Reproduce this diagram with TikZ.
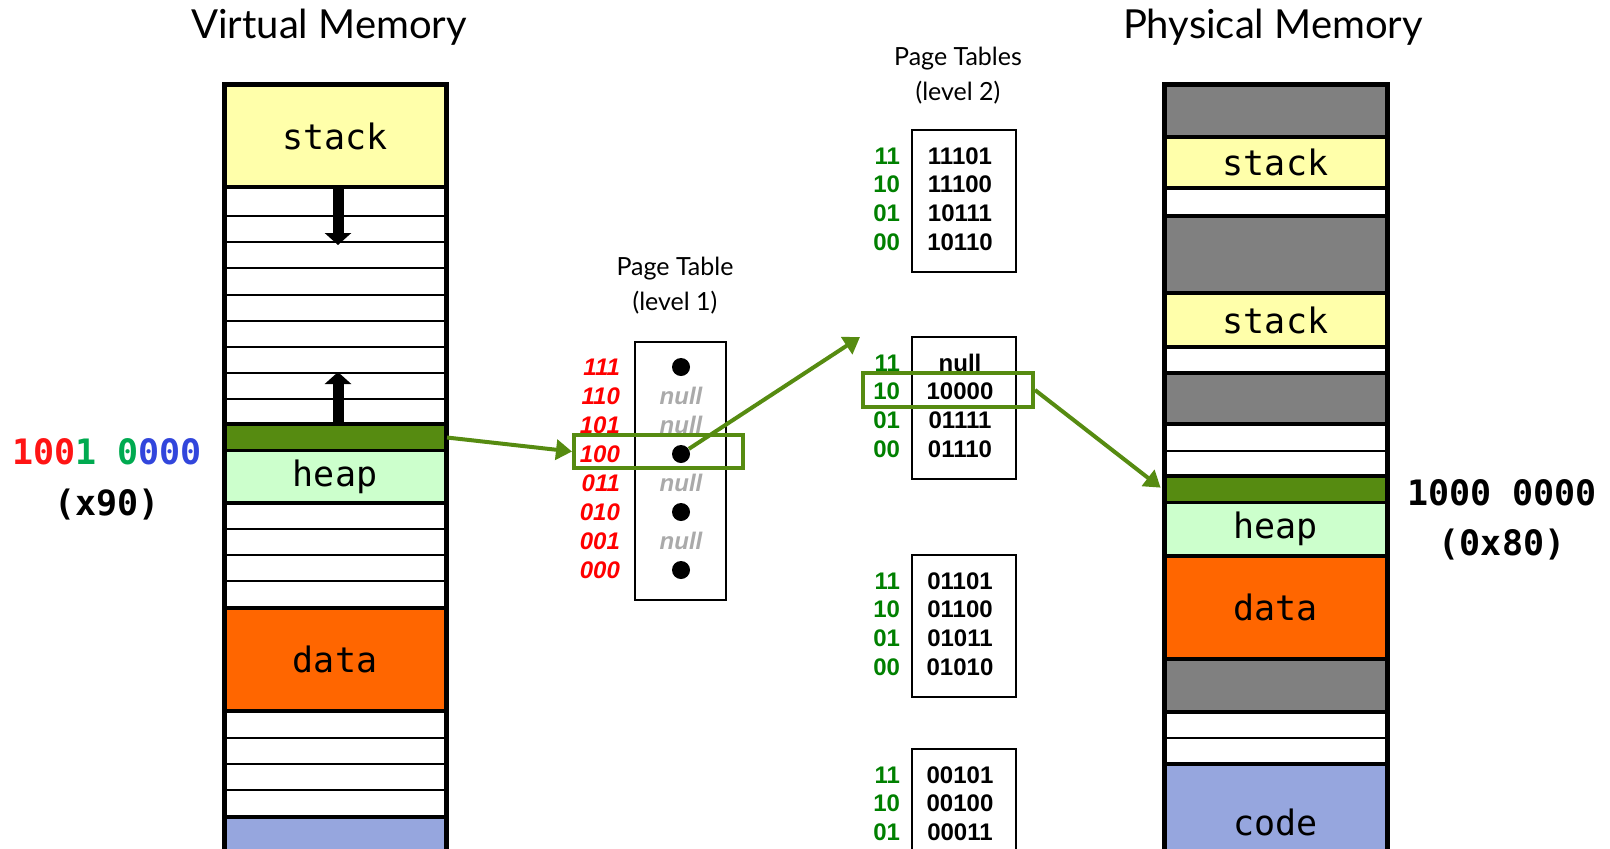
\documentclass[tikz,border=0pt]{standalone}
\usepackage{fontspec}
\setmainfont{Liberation Sans}
\newfontfamily\segfont{DejaVu Sans Mono}
\newfontfamily\titlefont{Lato}
\usetikzlibrary{arrows.meta,fit,positioning}

\definecolor{stackyellow}{RGB}{255,255,170}
\definecolor{heapgreen}{RGB}{204,255,204}
\definecolor{dataorange}{RGB}{255,102,0}
\definecolor{codeblue}{RGB}{150,166,222}
\definecolor{gapgray}{RGB}{128,128,128}
\definecolor{bargreen}{RGB}{86,139,17}
\definecolor{idxred}{RGB}{255,0,0}
\definecolor{idxgreen}{RGB}{0,128,0}
\definecolor{nullgray}{RGB}{170,170,170}
\definecolor{addrred}{RGB}{255,20,20}
\definecolor{addrgreen}{RGB}{0,170,80}
\definecolor{addrblue}{RGB}{50,70,220}

\tikzset{
	seg/.style={draw, line width=2pt, inner sep=0pt},
	segtext/.style={font=\segfont\fontsize{17.5}{20}\selectfont},
	rowline/.style={line width=1pt},
	colborder/.style={line width=2.5pt},
	titletext/.style={font=\titlefont\fontsize{20}{24}\selectfont},
	captext/.style={font=\titlefont\fontsize{12.5}{17.5}\selectfont, align=center},
	tbox/.style={draw, line width=1pt, inner sep=0pt},
	l1idx/.style={anchor=east, text=idxred, font=\fontsize{12}{14}\selectfont\bfseries\itshape},
	l2idx/.style={anchor=east, text=idxgreen, font=\fontsize{12}{14}\selectfont\bfseries},
	ptentry/.style={font=\fontsize{12}{14}\selectfont\bfseries},
	nullentry/.style={text=nullgray, font=\fontsize{12}{14}\selectfont\bfseries\itshape},
	ptrdot/.style={circle, fill, minimum size=9pt, inner sep=0pt},
	hlbox/.style={draw=bargreen, line width=2pt, inner sep=0pt},
	ptr/.style={draw=bargreen, line width=2pt, -{Triangle[length=8pt,width=10pt]}},
	growarrow/.style={line width=5.5pt, -{Triangle[length=6pt,width=13pt]}},
	addr/.style={font=\segfont\bfseries\fontsize{17.5}{20}\selectfont}
}

\begin{document}
\begin{tikzpicture}[x=0.5pt,y=-0.5pt]
	\useasboundingbox (0,0) rectangle (1610,848);
	\clip (0,0) rectangle (1610,848);

	% titles
	\node[titletext]	(vtitle)	at (329,27)		{Virtual Memory};
	\node[titletext]	(ptitle)	at (1273,27)	{Physical Memory};
	\node[captext]		(l1title)	at (675,286)	{Page Table\\(level 1)};
	\node[captext]		(l2title)	at (958,76)		{Page Tables\\(level 2)};

	% virtual memory
	\node[seg, fill=stackyellow, fit={(224,85)(446,187)}, label={[segtext]center:stack}]	(vstack)	{};
	\foreach \y in {216,242,268,295,321,347,373,399,529,555,581,738,764,790}
		\draw[rowline] (224,\y) -- (446,\y);
	\node[seg, fill=heapgreen, fit={(224,450)(446,503)}, label={[segtext]center:heap}]	(vheap)		{};
	\node[seg, fill=bargreen, line width=1pt, fit={(224,425)(446,450)}]	(vbar)	{};
	\draw[line width=2pt] (vbar.north west) -- (vbar.north east);
	\node[seg, fill=dataorange, fit={(224,608)(446,711)}, label={[segtext]center:data}]	(vdata)		{};
	\node[seg, fill=codeblue, fit={(224,817)(446,900)}]		(vcode)		{};
	\draw[colborder] (224,900) -- (224,84) -- (446,84) -- (446,900);
	\coordinate (sdown)	at (338,245);
	\coordinate (hup)	at (338,372);
	\draw[growarrow] (vstack.south -| sdown) -- (sdown);
	\draw[growarrow] (vbar.north -| hup) -- (hup);

	\node[addr]	(vaddr)	at (107,452)	{\color{addrred}100\color{addrgreen}1 0\color{addrblue}000};
	\node[addr]	(vhex)	at (107,505)	{(x90)};

	% physical memory
	\draw[seg, fill=gapgray] (1164,84) rectangle (1387,137);
	\node[seg, fill=stackyellow, fit={(1164,137)(1387,188)}, label={[segtext]center:stack}]	(pstack1)	{};
	\draw[seg, fill=gapgray] (1164,216) rectangle (1387,293);
	\node[seg, fill=stackyellow, fit={(1164,293)(1387,347)}, label={[segtext]center:stack}]	(pstack2)	{};
	\draw[seg, fill=gapgray] (1164,373) rectangle (1387,424);
	\draw[rowline] (1164,451) -- (1387,451);
	\node[seg, fill=heapgreen, fit={(1164,502)(1387,556)}, label={[segtext]center:heap}]	(pheap)		{};
	\node[seg, fill=bargreen, line width=1pt, fit={(1164,477)(1387,502)}]	(pbar)	{};
	\draw[line width=2pt] (pbar.north west) -- (pbar.north east);
	\node[seg, fill=dataorange, fit={(1164,556)(1387,659)}, label={[segtext]center:data}]	(pdata)		{};
	\draw[seg, fill=gapgray] (1164,659) rectangle (1387,712);
	\draw[rowline] (1164,738) -- (1387,738);
	\node[seg, fill=codeblue, fit={(1164,764)(1387,880)}, label={[segtext]center:code}]	(pcode)		{};
	\draw[colborder] (1164,900) -- (1164,84) -- (1387,84) -- (1387,900);

	\node[addr]	(paddr)	at (1502,493)	{1000 0000};
	\node[addr]	(phex)	at (1502,545)	{(0x80)};

	% page table level 1
	\node[tbox, fit={(635,342)(726,600)}] (pt1) {};
	\foreach \idx [count=\i from 0] in {111,110,101,100,011,010,001,000}
		\node[l1idx] (i\idx) at (627,367+29*\i) {\idx};
	\foreach \idx/\k in {111/0,100/3,010/5,000/7}
		\node[ptrdot] (d\idx) at (681,367+29*\k) {};
	\foreach \idx/\k in {110/1,101/2,011/4,001/6}
		\node[nullentry] (n\idx) at (681,367+29*\k) {null};
	\node[hlbox, fit={(574,435)(743,468)}] (hl1) {};

	% page tables level 2
	\foreach \t/\name/\va/\vb/\vc/\vd in {130/a/11101/11100/10111/10110,
			337/b/null/10000/01111/01110, 555/c/01101/01100/01011/01010}{
		\node[tbox, fit={(912,\t)(1016,\t+142)}] (pt2\name) {};
		\foreach \idx/\v [count=\j from 0] in {11/\va,10/\vb,01/\vc,00/\vd}{
			\node[l2idx]	(\name\idx)		at (907,\t+26+28.7*\j)	{\idx};
			\node[ptentry]	(\name v\idx)	at (960,\t+26+28.7*\j)	{\v};
		}
	}
	\node[tbox, fit={(912,749)(1016,891)}] (pt2d) {};
	\foreach \idx/\v [count=\j from 0] in {11/00101,10/00100,01/00011}{
		\node[l2idx]	(d\idx)		at (907,775+28.7*\j)	{\idx};
		\node[ptentry]	(dv\idx)	at (960,775+28.7*\j)	{\v};
	}
	\node[hlbox, fit={(863,373)(1033,407)}] (hl2) {};

	% translation
	\coordinate (l2in) at (860,337);
	\draw[ptr] (vbar.east) -- (hl1.west);
	\draw[ptr] (d100) -- (l2in);
	\draw[ptr, shorten >=1.5pt] (hl2.east) -- (pbar.west);
\end{tikzpicture}
\end{document}
